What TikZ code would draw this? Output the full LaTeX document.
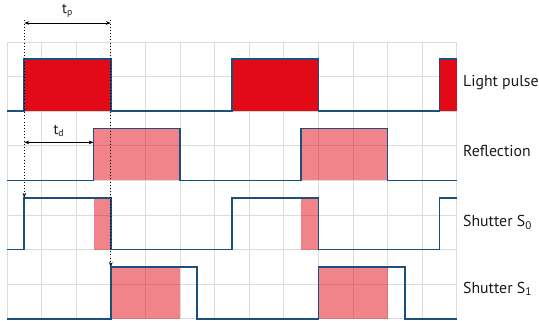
\documentclass[tikz,border=0pt]{standalone}
\usepackage{fontspec}
\setmainfont{PT Sans}
\usepackage{xcolor}
\usetikzlibrary{arrows.meta}
\definecolor{pulseRed}{HTML}{E30A17}
\definecolor{sigBlue}{HTML}{1B4F7E}
\definecolor{gridGray}{HTML}{DCDCDC}
\definecolor{txtDark}{HTML}{1A1A1A}

\begin{document}
\begin{tikzpicture}[x=0.5cm, y=0.5cm, sig/.style={draw=sigBlue, line width=1.4pt, line join=miter}, hot/.style={fill=pulseRed}, echo/.style={fill=pulseRed, fill opacity=0.5}, dim/.style={{Stealth[length=4pt,width=3pt]}-{Stealth[length=4pt,width=3pt]}, line width=0.6pt}, guide/.style={dotted, line width=0.6pt, -{Stealth[length=4pt,width=3pt]}}, lbl/.style={anchor=base west, inner sep=0pt, text=txtDark, font=\fontsize{13}{15}\selectfont}]
\useasboundingbox (-0.405,-0.07) rectangle (30.75,18.43);
\draw[gridGray, line width=0.6pt] (0,0) grid (26,16);
% light pulse
\fill[hot] (1,12) rectangle (6,15); \fill[hot] (13,12) rectangle (18,15); \fill[hot] (25,12) rectangle (26,15);
\draw[sig] (0,12) -- (1,12) -- (1,15) -- (6,15) -- (6,12) -- (13,12) -- (13,15) -- (18,15) -- (18,12) -- (25,12) -- (25,15) -- (26,15);
% reflection
\fill[echo] (5,8) rectangle (10,11); \fill[echo] (17,8) rectangle (22,11);
\draw[sig] (0,8) -- (5,8) -- (5,11) -- (10,11) -- (10,8) -- (17,8) -- (17,11) -- (22,11) -- (22,8) -- (26,8);
% shutter S0
\fill[echo] (5,4) rectangle (6,7); \fill[echo] (17,4) rectangle (18,7);
\draw[sig] (0,4) -- (1,4) -- (1,7) -- (6,7) -- (6,4) -- (13,4) -- (13,7) -- (18,7) -- (18,4) -- (25,4) -- (25,7) -- (26,7);
% shutter S1
\fill[echo] (6,0) rectangle (10,3); \fill[echo] (18,0) rectangle (22,3);
\draw[sig] (0,0) -- (6,0) -- (6,3) -- (11,3) -- (11,0) -- (18,0) -- (18,3) -- (23,3) -- (23,0) -- (26,0);
% timing marks
\coordinate (tpA) at (1,17.1); \coordinate (tpB) at (6,17.1);
\coordinate (tdA) at (1,10.2); \coordinate (tdB) at (5,10.2);
\coordinate (s0hi) at (1,7); \coordinate (s1hi) at (6,3);
\draw[guide] (1,17.25) -- (s0hi);
\draw[guide] (6,17.25) -- (s1hi);
\draw[dim] (tpA) -- (tpB) node[midway, above=1pt, text=txtDark, font=\fontsize{12}{13}\selectfont] (tp) {t\textsubscript{p}};
\draw[dim] (tdA) -- (tdB) node[midway, above=1pt, text=txtDark, font=\fontsize{12}{13}\selectfont] (td) {t\textsubscript{d}};
% row labels
\node[lbl] (lp) at (26.35,13.42) {Light pulse};
\node[lbl] (rf) at (26.35,9.37) {Reflection};
\node[lbl] (s0) at (26.35,5.32) {Shutter S\textsubscript{0}};
\node[lbl] (s1) at (26.35,1.49) {Shutter S\textsubscript{1}};
\end{tikzpicture}
\end{document}
